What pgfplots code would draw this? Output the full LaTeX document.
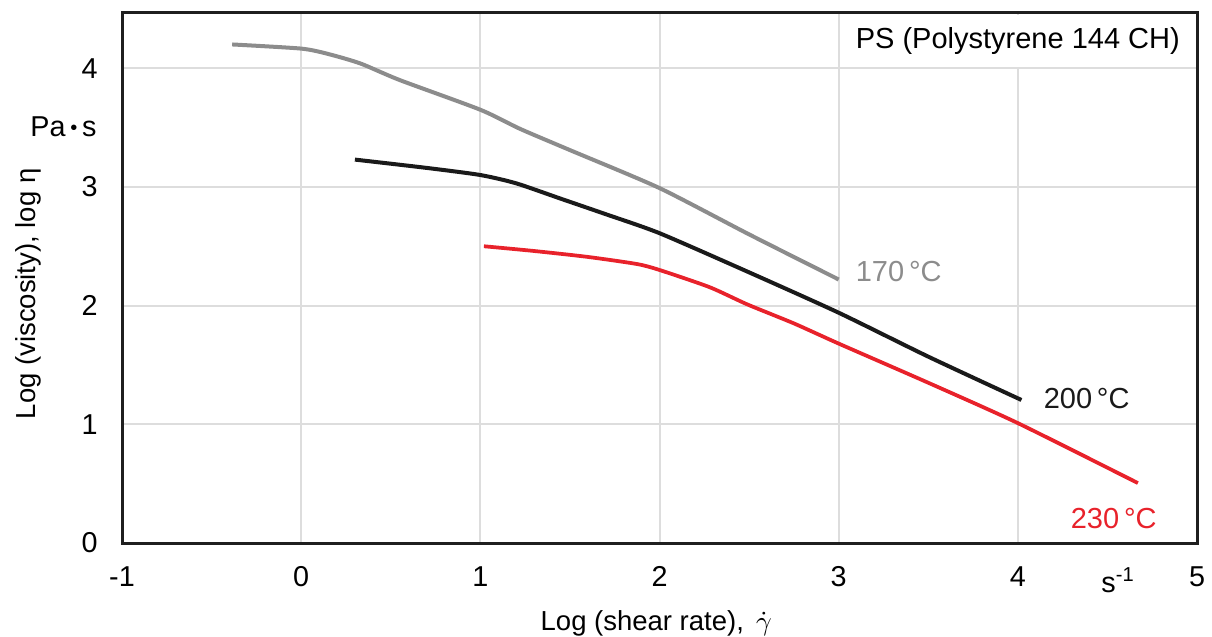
\documentclass[border=0pt]{standalone}
\usepackage{pgfplots}
\pgfplotsset{compat=1.18}
\usepackage{fontspec}
\setmainfont{Liberation Sans}

\definecolor{c170}{HTML}{8C8C8C}
\definecolor{c200}{HTML}{1A1A1A}
\definecolor{c230}{HTML}{E8222B}
\definecolor{gridgray}{HTML}{DDDDDD}

% log shear rate vs log viscosity
\pgfplotstableread{
x y
-0.385 4.20
0.00 4.165
0.15 4.12
0.33 4.04
0.55 3.90
1.00 3.65
1.22 3.49
1.50 3.31
2.00 2.99
2.50 2.60
3.00 2.22
}\tsevenzero
\pgfplotstableread{
x y
0.30 3.23
0.70 3.16
1.00 3.10
1.20 3.03
1.45 2.90
1.70 2.77
2.00 2.61
2.50 2.28
3.00 1.94
3.50 1.57
4.02 1.205
}\ttwozerozero
\pgfplotstableread{
x y
1.02 2.50
1.30 2.46
1.60 2.41
1.875 2.35
2.00 2.30
2.28 2.155
2.49 2.01
2.75 1.85
3.00 1.68
3.50 1.35
4.00 1.01
4.67 0.505
}\ttwothreezero

\begin{document}
\begin{tikzpicture}
\begin{axis}[
  scale only axis, width=430pt, height=212pt,
  xmin=-1, xmax=5, ymin=0, ymax=4.465,
  xtick={-1,0,...,5}, ytick={0,1,...,4},
  major tick length=0pt,
  grid=major,
  major grid style={gridgray, line width=0.8pt},
  axis line style={line width=1.2pt, draw=black!88},
  tick label style={font=\fontsize{11.5}{13}\selectfont, /pgf/number format/assume math mode=true},
  xticklabel style={yshift=-5.8pt},
  yticklabel style={xshift=-6.2pt},
  xlabel={Log (shear rate),\ \,$\dot{\gamma}$},
  ylabel={Log (viscosity), log η},
  label style={font=\fontsize{11}{13}\selectfont},
  xlabel style={at={(axis description cs:0.497,-0.151)}, anchor=center},
  ylabel style={at={(axis description cs:-0.0874,0.47)}, anchor=center},
  clip=false,
]
\addplot[c170, line width=1.6pt, smooth, tension=0.4] table {\tsevenzero};
\addplot[c200, line width=1.6pt, smooth, tension=0.4] table {\ttwozerozero};
\addplot[c230, line width=1.5pt, smooth, tension=0.4] table {\ttwothreezero};

\fill[white] ([xshift=0.6pt,yshift=0.6pt]axis cs:3,4) rectangle ([xshift=-0.7pt,yshift=-0.7pt]rel axis cs:1,1);
\node[font=\fontsize{11.6}{14}\selectfont, anchor=center] at (axis cs:4,4.225) {PS (Polystyrene 144 CH)};

\node[c170, font=\fontsize{11.6}{14}\selectfont, anchor=west, inner sep=0pt] at (axis cs:3.093,2.29) {170\,°C};
\node[c200, font=\fontsize{11.6}{14}\selectfont, anchor=west, inner sep=0pt] at (axis cs:4.142,1.217) {200\,°C};
\node[c230, font=\fontsize{11.6}{14}\selectfont, anchor=west, inner sep=0pt] at (axis cs:4.293,0.21) {230\,°C};

\node[font=\fontsize{11.5}{13}\selectfont, anchor=east, inner sep=0pt, xshift=-10pt] at (axis cs:-1,3.51) {Pa\,\raisebox{0.5pt}{\scalebox{0.7}{•}}\,s};
\node[font=\fontsize{11.5}{13}\selectfont, anchor=base, inner sep=0pt, yshift=-19.6pt] at (axis cs:4.56,0) {s\textsuperscript{-1}};
\end{axis}
\pgfresetboundingbox
\path[use as bounding box] ([xshift=-48.8pt,yshift=-37.2pt]current axis.south west) rectangle ([xshift=6pt,yshift=5.2pt]current axis.north east);
\end{tikzpicture}
\end{document}
